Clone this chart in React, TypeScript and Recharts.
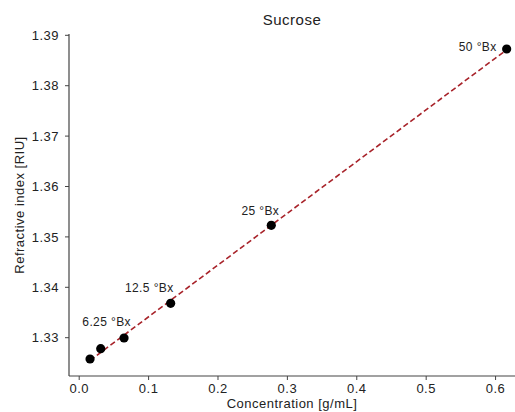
import { ComposedChart, Scatter, XAxis, YAxis, LabelList } from 'recharts'

// concentration [g/mL] vs refractive index [RIU]
const concentration = [0.0156, 0.031, 0.0646, 0.1318, 0.2768, 0.616]
const refractiveIndex = [1.32577, 1.32782, 1.32994, 1.33683, 1.3523, 1.38728]
const brixLabels = ['', '', '6.25 °Bx', '12.5 °Bx', '25 °Bx', '50 °Bx']

const xTicks = [0, 0.1, 0.2, 0.3, 0.4, 0.5, 0.6]
const yTicks = [1.33, 1.34, 1.35, 1.36, 1.37, 1.38, 1.39]

// label nudges relative to the marker (text anchored at its end)
const labelNudge: [number, number][] = [[0, 0], [0, 0], [7, -12], [3, -11], [8, -10], [-10, 2]]

const FONT = '"Liberation Sans", Arial, sans-serif'
const AXIS = '#444'
const FIT = '#a8232a'

const points = concentration.map((x, i) => ({ x, y: refractiveIndex[i], label: brixLabels[i], i }))

// least squares fit drawn between the first and last sample
const n = concentration.length
const mx = concentration.reduce((a, b) => a + b, 0) / n
const my = refractiveIndex.reduce((a, b) => a + b, 0) / n
let sxy = 0
let sxx = 0
concentration.forEach((x, i) => {
  sxy += (x - mx) * (refractiveIndex[i] - my)
  sxx += (x - mx) * (x - mx)
})
const slope = sxy / sxx
const intercept = my - slope * mx
const fitLine = [concentration[0], concentration[n - 1]].map((x) => ({ x, y: intercept + slope * x }))

const tickStyle = { fontSize: 13, fill: '#222', fontFamily: FONT, letterSpacing: 0.5 }

export default function App() {
  return (
    <div style={{ position: 'absolute', left: 0, top: 0, width: 515, height: 412, background: '#fff' }}>
      <div
        style={{
          position: 'absolute', left: 0, top: 0, width: 515, textAlign: 'center',
          paddingLeft: 69, boxSizing: 'border-box',
        }}
      >
        <span style={{ fontFamily: FONT, fontSize: 15, color: '#222', lineHeight: '40px', letterSpacing: 0.5 }}>
          Sucrose
        </span>
      </div>
      <ComposedChart width={515} height={412} margin={{ top: 34, right: 0, bottom: 0, left: 0 }}>
        <XAxis
          xAxisId="top"
          orientation="top"
          type="number"
          dataKey="x"
          domain={[-0.0147, 0.628]}
          height={0}
          tick={false}
          tickLine={false}
          axisLine={{ stroke: AXIS, strokeWidth: 1.2 }}
        />
        <XAxis
          type="number"
          dataKey="x"
          domain={[-0.0147, 0.628]}
          ticks={xTicks}
          tickFormatter={(v) => v.toFixed(1)}
          height={36}
          tickSize={4}
          tickMargin={4}
          tick={tickStyle}
          stroke={AXIS}
          axisLine={{ stroke: AXIS, strokeWidth: 1.2 }}
          allowDataOverflow
          label={{
            content: ({ viewBox }: any) => (
              <text
                x={viewBox.x + viewBox.width / 2}
                y={408}
                textAnchor="middle"
                fontSize={13}
                fontFamily={FONT}
                fill="#222"
                letterSpacing={0.5}
              >
                Concentration [g/mL]
              </text>
            ),
          }}
        />
        <YAxis
          type="number"
          dataKey="y"
          domain={[1.3224, 1.39026]}
          ticks={yTicks}
          tickFormatter={(v) => v.toFixed(2)}
          width={69}
          tickSize={4}
          tickMargin={6}
          tick={tickStyle}
          stroke={AXIS}
          axisLine={{ stroke: AXIS, strokeWidth: 1.2 }}
          allowDataOverflow
          label={{
            content: () => (
              <text
                x={24}
                y={205}
                transform="rotate(-90 24 205)"
                textAnchor="middle"
                fontSize={13}
                fontFamily={FONT}
                fill="#222"
                letterSpacing={0.5}
              >
                Refractive index [RIU]
              </text>
            ),
          }}
        />
        <Scatter
          data={fitLine}
          line={{ stroke: FIT, strokeWidth: 1.6, strokeDasharray: '5.5 3' }}
          shape={() => <g />}
          isAnimationActive={false}
        />
        <Scatter
          data={points}
          fill="#000"
          shape={(p: any) => <circle cx={p.cx} cy={p.cy} r={4.6} fill="#000" />}
          isAnimationActive={false}
        >
          <LabelList
            dataKey="label"
            content={(p: any) => {
              if (!p.value) return null
              const idx = brixLabels.indexOf(p.value)
              const [dx, dy] = labelNudge[idx]
              const cx = p.x + p.width / 2
              const cy = p.y + p.height / 2
              return (
                <text
                  x={cx + dx}
                  y={cy + dy}
                  textAnchor="end"
                  fontSize={12}
                  fontFamily={FONT}
                  fill="#222"
                  letterSpacing={0.4}
                >
                  {p.value}
                </text>
              )
            }}
          />
        </Scatter>
      </ComposedChart>
    </div>
  )
}
